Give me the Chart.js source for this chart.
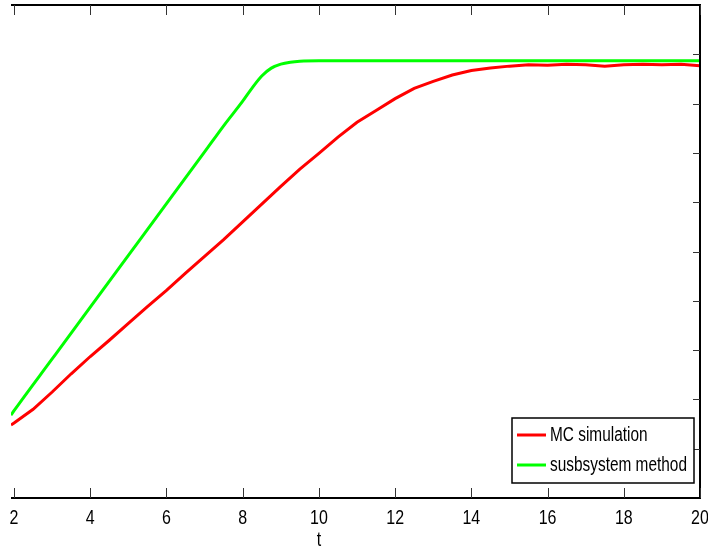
<!DOCTYPE html>
<html>
<head>
<meta charset="utf-8">
<script src="https://cdn.jsdelivr.net/npm/chart.js@4.4.1/dist/chart.umd.min.js"></script>
<style>
  html, body { margin: 0; padding: 0; background: #fff; }
  #wrap { width: 708px; height: 549px; }
</style>
</head>
<body>
<div id="wrap"><canvas id="chart" width="708" height="549"></canvas></div>
<script>
// time axis
const xMin = 1.92;
const xMax = 20;
const xTicks = [2, 4, 6, 8, 10, 12, 14, 16, 18, 20];
const yTicks = [0.1, 0.2, 0.3, 0.4, 0.5, 0.6, 0.7, 0.8, 0.9];

// MC simulation (red)
const mcT = [1.92, 2, 2.5, 3, 3.5, 4, 4.5, 5, 5.5, 6, 6.5, 7, 7.5, 8, 8.5, 9, 9.5, 10,
  10.5, 11, 11.5, 12, 12.5, 13, 13.5, 14, 14.5, 15, 15.5, 16, 16.5, 17, 17.5, 18, 18.5, 19, 19.5, 20];
const mcVals = [0.148, 0.152, 0.180, 0.215, 0.252, 0.287, 0.320, 0.354, 0.388, 0.421, 0.456, 0.490,
  0.524, 0.560, 0.596, 0.632, 0.667, 0.699, 0.732, 0.762, 0.786, 0.810, 0.831, 0.845, 0.858, 0.867,
  0.872, 0.876, 0.879, 0.878, 0.880, 0.879, 0.876, 0.879, 0.880, 0.879, 0.880, 0.877];

// subsystem method (green)
const subT = [1.92, 2, 3, 4, 5, 6, 7, 7.5, 8, 8.25, 8.5, 8.75, 9, 9.25, 9.5, 10, 12, 14, 16, 18, 20];
const subVals = [0.168, 0.177, 0.282, 0.387, 0.492, 0.597, 0.702, 0.755, 0.805, 0.832, 0.856, 0.872,
  0.880, 0.884, 0.886, 0.887, 0.887, 0.887, 0.887, 0.887, 0.887];

const labels = ['MC simulation', 'susbsystem method'];
const colors = ['#ff0000', '#00ff00'];
const fontFamily = "'Liberation Sans', Arial, sans-serif";

// draw text squeezed horizontally (original uses a narrow font)
function narrowText(ctx, text, x, y, align, sq) {
  ctx.save();
  ctx.translate(x, y);
  ctx.scale(sq, 1);
  ctx.textAlign = align;
  ctx.fillText(text, 0, 0);
  ctx.restore();
}

const framePlugin = {
  id: 'frame',
  afterDraw(chart) {
    const { ctx, chartArea: a } = chart;
    const xs = chart.scales.x, ys = chart.scales.y;
    ctx.save();

    // box: top, right, bottom
    ctx.strokeStyle = '#000';
    ctx.lineWidth = 2;
    ctx.beginPath();
    ctx.moveTo(a.left, a.top);
    ctx.lineTo(a.right, a.top);
    ctx.lineTo(a.right, a.bottom);
    ctx.lineTo(a.left, a.bottom);
    ctx.stroke();

    // inward ticks
    ctx.lineWidth = 1;
    ctx.strokeStyle = '#333';
    ctx.beginPath();
    xTicks.forEach(v => {
      const px = Math.round(xs.getPixelForValue(v)) + 0.5;
      ctx.moveTo(px, a.bottom);
      ctx.lineTo(px, a.bottom - 10);
      ctx.moveTo(px, a.top);
      ctx.lineTo(px, a.top + 10);
    });
    yTicks.forEach(v => {
      const py = Math.round(ys.getPixelForValue(v)) + 0.5;
      ctx.moveTo(a.right, py);
      ctx.lineTo(a.right - 7, py);
    });
    ctx.stroke();

    // tick labels and axis title
    ctx.fillStyle = '#000';
    ctx.font = '20px ' + fontFamily;
    ctx.textBaseline = 'alphabetic';
    xTicks.forEach(v => narrowText(ctx, String(v), xs.getPixelForValue(v), 524, 'center', 0.8));
    narrowText(ctx, 't', xs.getPixelForValue(10), 546, 'center', 0.8);

    // legend box
    const lx = 512, ly = 418, lw = 182, lh = 65;
    ctx.fillStyle = '#fff';
    ctx.fillRect(lx, ly, lw, lh);
    ctx.strokeStyle = '#000';
    ctx.lineWidth = 1.5;
    ctx.strokeRect(lx, ly, lw, lh);
    ctx.textBaseline = 'middle';
    labels.forEach((lab, i) => {
      const cy = 435 + i * 30;
      ctx.strokeStyle = colors[i];
      ctx.lineWidth = 3;
      ctx.beginPath();
      ctx.moveTo(517, cy);
      ctx.lineTo(546, cy);
      ctx.stroke();
      ctx.fillStyle = '#000';
      narrowText(ctx, lab, 550, cy, 'left', 0.77);
    });
    ctx.restore();
  }
};

const ctx = document.getElementById('chart').getContext('2d');
new Chart(ctx, {
  type: 'line',
  data: {
    datasets: [{
      label: labels[0],
      data: mcT.map((t, i) => ({ x: t, y: mcVals[i] })),
      borderColor: colors[0],
      borderWidth: 3,
      pointRadius: 0,
      tension: 0
    }, {
      label: labels[1],
      data: subT.map((t, i) => ({ x: t, y: subVals[i] })),
      borderColor: colors[1],
      borderWidth: 3,
      pointRadius: 0,
      cubicInterpolationMode: 'monotone'
    }]
  },
  options: {
    responsive: false,
    animation: false,
    layout: { padding: { left: 11, right: 8, top: 5, bottom: 0 } },
    plugins: {
      legend: { display: false },
      tooltip: { enabled: false }
    },
    scales: {
      x: {
        type: 'linear',
        min: xMin,
        max: xMax,
        grid: { display: false, drawTicks: false },
        border: { display: false },
        ticks: { display: false },
        afterBuildTicks(scale) {
          scale.ticks = xTicks.map(v => ({ value: v }));
        },
        afterFit(scale) {
          scale.height = 51;
          scale.paddingLeft = 0;
          scale.paddingRight = 0;
        }
      },
      y: {
        display: false,
        min: 0,
        max: 1
      }
    }
  },
  plugins: [framePlugin]
});
</script>
</body>
</html>
